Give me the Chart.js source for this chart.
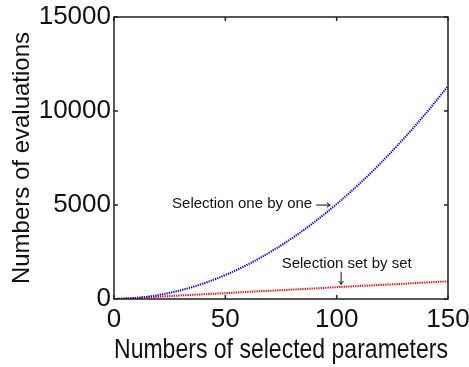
<!DOCTYPE html>
<html>
<head>
<meta charset="utf-8">
<script src="https://cdn.jsdelivr.net/npm/chart.js@4"></script>
<style>
  body { margin: 0; background: #fff; }
  #wrap { width: 469px; height: 367px; }
</style>
</head>
<body>
<div id="wrap"><canvas id="evalChart" width="469" height="367"></canvas></div>
<script>
// values
var params = [0, 10, 20, 30, 40, 50, 60, 70, 80, 90, 100, 110, 120, 130, 140, 150];
var oneByOne = [0, 55, 210, 465, 820, 1275, 1830, 2485, 3240, 4095, 5050, 6105, 7260, 8515, 9870, 11325];
var setBySet = [0, 60, 120, 190, 250, 310, 380, 440, 500, 560, 630, 690, 750, 810, 880, 940];
var xTicks = [0, 50, 100, 150];
var yTicks = [0, 5000, 10000, 15000];

var FONT = '"Liberation Sans", Arial, sans-serif';

function toPoints(ys) {
    return params.map(function (x, i) { return { x: x, y: ys[i] }; });
}

// small hand-drawn arrow, same look as the matlab text arrows
function arrow(c, x1, y1, x2, y2) {
    var ang = Math.atan2(y2 - y1, x2 - x1), h = 4;
    c.beginPath();
    c.moveTo(x1, y1); c.lineTo(x2, y2);
    c.moveTo(x2 - h * Math.cos(ang - 0.6), y2 - h * Math.sin(ang - 0.6));
    c.lineTo(x2, y2);
    c.lineTo(x2 - h * Math.cos(ang + 0.6), y2 - h * Math.sin(ang + 0.6));
    c.stroke();
}

// box around the plot, inward tick marks and the two text notes
var frame = {
    id: 'frame',
    afterDatasetsDraw: function (chart) {
        var c = chart.ctx, a = chart.chartArea;
        var xs = chart.scales.x, ys = chart.scales.y;
        c.save();
        c.strokeStyle = '#222';
        c.lineWidth = 1.5;
        c.strokeRect(a.left, a.top, a.right - a.left, a.bottom - a.top);
        c.beginPath();
        xTicks.forEach(function (v) {
            var p = xs.getPixelForValue(v);
            c.moveTo(p, a.bottom); c.lineTo(p, a.bottom - 4);
            c.moveTo(p, a.top); c.lineTo(p, a.top + 4);
        });
        yTicks.forEach(function (v) {
            var p = ys.getPixelForValue(v);
            c.moveTo(a.left, p); c.lineTo(a.left + 4, p);
            c.moveTo(a.right, p); c.lineTo(a.right - 4, p);
        });
        c.stroke();

        c.fillStyle = '#111';
        c.strokeStyle = '#111';
        c.lineWidth = 1;
        c.font = '15px ' + FONT;
        c.textBaseline = 'middle';
        c.textAlign = 'right';
        var ty = ys.getPixelForValue(5050);
        var tx = xs.getPixelForValue(89);
        c.fillText('Selection one by one', tx, ty);
        arrow(c, tx + 4, ty + 1, tx + 18, ty + 1);
        c.textAlign = 'center';
        c.fillText('Selection set by set', xs.getPixelForValue(104.5), ys.getPixelForValue(1860));
        var ax = xs.getPixelForValue(102);
        arrow(c, ax, ys.getPixelForValue(1450), ax, ys.getPixelForValue(780));
        c.restore();
    }
};

var ctx = document.getElementById('evalChart').getContext('2d');
var chart = new Chart(ctx, {
    type: 'line',
    data: {
        datasets: [{
            label: 'Selection one by one',
            data: toPoints(oneByOne),
            borderColor: '#0000ff',
            borderWidth: 2,
            borderDash: [1.3, 1],
            pointRadius: 0,
            tension: 0.4,
            cubicInterpolationMode: 'monotone'
        }, {
            label: 'Selection set by set',
            data: toPoints(setBySet),
            borderColor: '#ff0000',
            borderWidth: 2,
            borderDash: [1.3, 1],
            pointRadius: 0,
            tension: 0
        }]
    },
    options: {
        responsive: false,
        animation: false,
        layout: { padding: { left: 8, right: 21, top: 17, bottom: 0 } },
        plugins: {
            legend: { display: false },
            tooltip: { enabled: false }
        },
        scales: {
            x: {
                type: 'linear',
                min: 0,
                max: 150,
                afterBuildTicks: function (s) { s.ticks = xTicks.map(function (v) { return { value: v }; }); },
                afterFit: function (s) { s.height = 68; s.paddingLeft = 0; s.paddingRight = 0; },
                grid: { display: false, drawTicks: false },
                border: { display: false },
                ticks: {
                    color: '#111',
                    padding: 5,
                    maxRotation: 0,
                    callback: function (v) { return String(v); },
                    font: { family: FONT, size: 26 }
                },
                title: {
                    display: true,
                    text: 'Numbers of selected parameters',
                    color: '#111',
                    padding: { top: 0, bottom: 0 },
                    font: { family: FONT, size: 28 }
                }
            },
            y: {
                min: 0,
                max: 15000,
                afterBuildTicks: function (s) { s.ticks = yTicks.map(function (v) { return { value: v }; }); },
                afterFit: function (s) { s.width = 106; s.paddingTop = 0; s.paddingBottom = 0; },
                grid: { display: false, drawTicks: false },
                border: { display: false },
                ticks: {
                    color: '#111',
                    padding: 3,
                    callback: function (v) { return String(v); },
                    font: { family: FONT, size: 26 }
                },
                title: {
                    display: true,
                    text: 'Numbers of evaluations',
                    color: '#111',
                    padding: { top: 0, bottom: 0 },
                    font: { family: FONT, size: 24 }
                }
            }
        }
    },
    plugins: [frame]
});
</script>
</body>
</html>
